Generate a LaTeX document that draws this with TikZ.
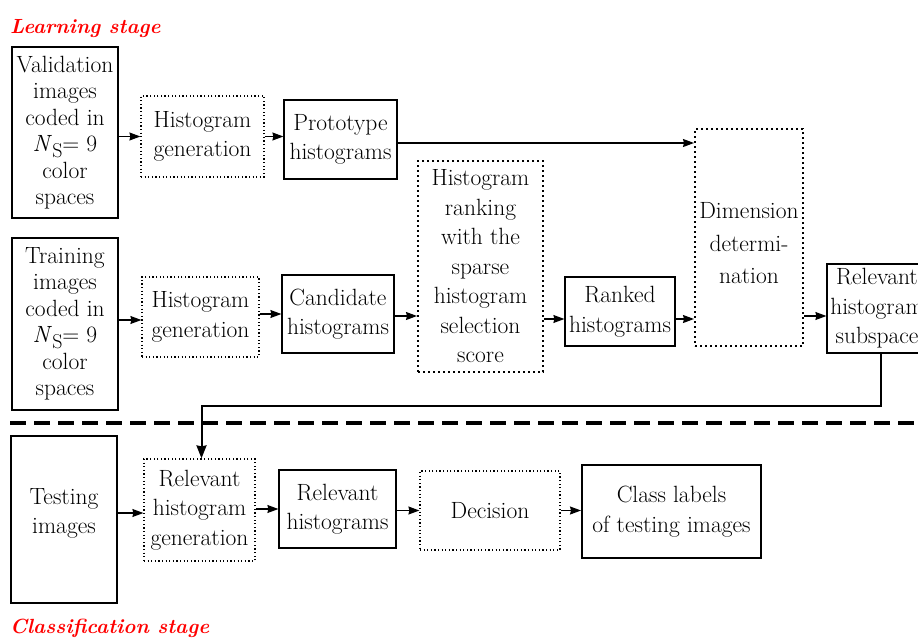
\documentclass[tikz,border=0pt]{standalone}
\usetikzlibrary{arrows.meta}
\begin{document}
\begin{tikzpicture}[x=1pt,y=-1pt,
  txt/.style={font=\fontsize{23.5}{29.5}\selectfont, align=center, inner sep=0pt},
  thickbox/.style={txt, draw, line width=2pt},
  thinbox/.style={txt, draw, line width=1.2pt},
  dotbox/.style={txt, draw, line width=1.2pt, dash pattern=on 1.2pt off 2.4pt},
  dotboxb/.style={txt, draw, line width=2pt, dash pattern=on 2pt off 3pt},
  arr/.style={line width=1.2pt, -{Stealth[length=11pt,width=8pt,inset=1pt]}},
  bigarr/.style={line width=2pt, -{Stealth[length=13pt,width=10pt,inset=1pt]}},
  stagetitle/.style={font=\fontsize{20.5}{25}\selectfont\bfseries\itshape, text=red, inner sep=0pt, anchor=base west}
]
\useasboundingbox (0,0) rectangle (918,637);

\node[stagetitle] (t1) at (10,33) {Learning stage};
\node[stagetitle] (t2) at (10,633) {Classification stage};

% learning stage, upper row
\node[thickbox, minimum width=106, minimum height=171, font=\fontsize{23.5}{26.5}\selectfont] (val) at (65,132.5)
  {Validation\\images\\coded in\\\textit{N}\raisebox{-6pt}{\fontsize{20}{20}\selectfont S}= 9\\color\\spaces};
\node[dotbox, minimum width=123, minimum height=81] (hg1) at (202.5,136.5) {Histogram\\generation};
\node[thinbox, minimum width=113, minimum height=79] (proto) at (340.5,139.5) {Prototype\\histograms};
\node[dotboxb, minimum width=108, minimum height=217,
  label={[txt, font=\fontsize{23.5}{32.5}\selectfont, yshift=-6pt]center:{Dimension\\determi-\\nation}}] (dim) at (749,237.5) {};

% learning stage, lower row
\node[thickbox, minimum width=106, minimum height=172, font=\fontsize{23.5}{26.5}\selectfont] (train) at (65,324)
  {Training\\images\\coded in\\\textit{N}\raisebox{-6pt}{\fontsize{20}{20}\selectfont S}= 9\\color\\spaces};
\node[dotbox, minimum width=117, minimum height=80] (hg2) at (200.5,317) {Histogram\\generation};
\node[thinbox, minimum width=112, minimum height=78] (cand) at (338,314) {Candidate\\histograms};
\node[dotboxb, minimum width=125, minimum height=211] (rank) at (480.5,266.5)
  {Histogram\\ranking\\with the\\sparse\\histogram\\selection\\score};
\node[thinbox, minimum width=110, minimum height=69] (ranked) at (620,311.5) {Ranked\\histograms};
\node[thinbox, minimum width=100, minimum height=89] (sub) at (877,308.5) {Relevant\\histogram\\subspace};

% separator
\coordinate (sepL) at (10,423);
\coordinate (sepR) at (918,423);
\draw[line width=4pt, dash pattern=on 16pt off 8pt] (sepL) -- (sepR);

% classification stage
\node[thickbox, minimum width=106, minimum height=167,
  label={[txt, yshift=6pt]center:{Testing\\images}}] (test) at (64,519.5) {};
\node[dotbox, minimum width=111, minimum height=102] (rhg) at (199.5,510) {Relevant\\histogram\\generation};
\node[thinbox, minimum width=117, minimum height=78] (rh) at (337.5,509) {Relevant\\histograms};
\node[dotbox, minimum width=140, minimum height=79] (dec) at (490,510.5) {Decision};
\node[thickbox, minimum width=179, minimum height=93] (cls) at (671.5,511.5) {Class labels\\of testing images};

% connectors
\draw[arr] (val.east |- hg1) -- (hg1.west);
\draw[arr] (hg1.east) -- (proto.west |- hg1);
\coordinate (protoy) at (0,143);
\draw[arr] (proto.east |- protoy) -- (dim.west |- protoy);
\coordinate (row2) at (0,320);
\draw[arr] (train.east |- row2) -- (hg2.west |- row2);
\draw[arr] (hg2.east |- cand) -- (cand.west);
\draw[arr] (cand.east |- 0,316) -- (rank.west |- 0,316);
\draw[arr] (rank.east |- 0,319) -- (ranked.west |- 0,319);
\draw[arr] (ranked.east |- 0,319) -- (dim.west |- 0,319);
\draw[arr] (dim.east |- 0,316) -- (sub.west |- 0,316);
\coordinate (turn) at (881,406);
\draw[bigarr] (sub.south -| turn) -- (turn) -| ([xshift=2pt]rhg.north);
\draw[arr] (test.east |- 0,513) -- (rhg.west |- 0,513);
\draw[arr] (rhg.east |- rh) -- (rh.west);
\draw[arr] (rh.east |- dec) -- (dec.west);
\draw[arr] (dec.east) -- (cls.west |- dec);
\end{tikzpicture}
\end{document}
